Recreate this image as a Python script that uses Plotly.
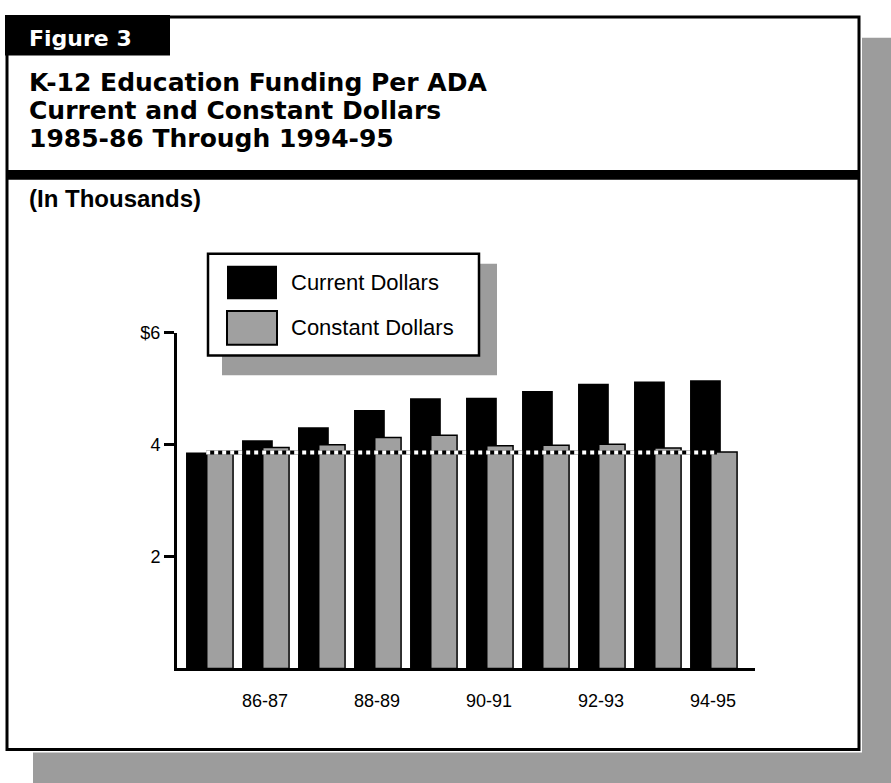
import plotly.graph_objects as go

W, H = 891, 783

# ---------------- data ----------------
years = ["85-86", "86-87", "87-88", "88-89", "89-90",
         "90-91", "91-92", "92-93", "93-94", "94-95"]
current_dollars = [3.86, 4.08, 4.31, 4.62, 4.83, 4.84, 4.96, 5.09, 5.13, 5.15]
constant_dollars = [3.86, 3.95, 4.00, 4.13, 4.17, 3.98, 3.99, 4.01, 3.94, 3.87]
x_tick_labels = ["86-87", "88-89", "90-91", "92-93", "94-95"]
y_tick_values = [2, 4, 6]
y_tick_labels = ["2", "4", "$6"]
series_names = ["Current Dollars", "Constant Dollars"]
figure_label = "Figure 3"
title_lines = ["K-12 Education Funding Per ADA",
               "Current and Constant Dollars",
               "1985-86 Through 1994-95"]
units_label = "(In Thousands)"


# ---------------- helpers ----------------
def px(x):
    return x / W


def py(y):
    return 1 - y / H


BLACK = "#000000"
GRAY = "#a0a0a0"
SHADOW = "#9c9c9c"
TITLE_FONT = "DejaVu Sans"
BODY_FONT = "Liberation Sans, Arial, sans-serif"

pos = list(range(len(years)))
tick_pos = [years.index(t) for t in x_tick_labels]

fig = go.Figure()
fig.add_bar(x=pos, y=current_dollars, name=series_names[0],
            offset=-0.41, width=0.55,
            marker=dict(color=BLACK, line=dict(color=BLACK, width=0)))
fig.add_bar(x=pos, y=constant_dollars, name=series_names[1],
            offset=-0.04, width=0.47,
            marker=dict(color=GRAY, line=dict(color=BLACK, width=1.5)))

# base-year (1985-86) reference line, drawn as black/white dotted line
ref_x = [pos[0] - 0.05, pos[-1] + 0.07]
ref_y = [constant_dollars[0]] * 2
fig.add_scatter(x=ref_x, y=ref_y, mode="lines",
                line=dict(color=BLACK, width=4), hoverinfo="skip")
fig.add_scatter(x=ref_x, y=ref_y, mode="lines",
                line=dict(color="white", width=4, dash="4px,4px"), hoverinfo="skip")

shapes = []


def rect(x0, y0, x1, y1, fill, line_color=None, line_width=0, layer="below"):
    shapes.append(dict(type="rect", xref="paper", yref="paper",
                       x0=px(x0), x1=px(x1), y0=py(y1), y1=py(y0),
                       fillcolor=fill, layer=layer,
                       line=dict(color=line_color or fill, width=line_width)))


# page shadow and frame
rect(862, 28, 891, 783, SHADOW)
rect(33, 752, 891, 783, SHADOW)
rect(7, 7, 859, 749, "white", BLACK, 3)
rect(5, 5, 170, 46, BLACK)
rect(7, 162, 859, 172, BLACK)

# legend
rect(222, 257, 497, 370, SHADOW, layer="above")
rect(208, 247, 479, 350, "white", BLACK, 2.5, layer="above")
rect(227, 259, 277, 293, BLACK, layer="above")
rect(227, 305, 277, 339, GRAY, BLACK, 2, layer="above")

annotations = []


def text(s, x, y, size, family, color=BLACK, weight="normal"):
    annotations.append(dict(text=s, xref="paper", yref="paper",
                            x=px(x), y=py(y), xanchor="left", yanchor="middle",
                            showarrow=False,
                            font=dict(family=family, size=size, color=color,
                                      weight=weight)))


text(figure_label, 27, 29, 22, TITLE_FONT, "white", "bold")
for line, yy in zip(title_lines, [73, 102, 130]):
    text(line, 27, yy, 25, TITLE_FONT, BLACK, "bold")
text(units_label, 27, 191, 24, BODY_FONT, BLACK, "bold")
text(series_names[0], 289, 276, 22, BODY_FONT)
text(series_names[1], 289, 322, 22, BODY_FONT)

fig.update_layout(
    width=W, height=H,
    margin=dict(l=0, r=0, t=0, b=0),
    paper_bgcolor="white",
    plot_bgcolor="rgba(0,0,0,0)",
    barmode="overlay",
    showlegend=False,
    shapes=shapes,
    annotations=annotations,
    xaxis=dict(domain=[px(177), px(755)], range=[-0.571, 9.75],
               tickmode="array", tickvals=tick_pos, ticktext=x_tick_labels,
               showline=True, linecolor=BLACK, linewidth=3,
               ticks="", showgrid=False, zeroline=False,
               ticklabelstandoff=14,
               tickfont=dict(family=BODY_FONT, size=18, color=BLACK)),
    yaxis=dict(domain=[py(667), py(327)], range=[0, 6],
               tickmode="array", tickvals=y_tick_values, ticktext=y_tick_labels,
               showline=True, linecolor=BLACK, linewidth=3,
               ticks="outside", ticklen=10, tickwidth=3, tickcolor=BLACK,
               showgrid=False, zeroline=False,
               tickfont=dict(family=BODY_FONT, size=18, color=BLACK)),
)

fig.write_html(
    "out.html",
    config={"displayModeBar": False},
    post_script="document.body.style.margin='0';document.body.style.overflow='hidden';",
)
